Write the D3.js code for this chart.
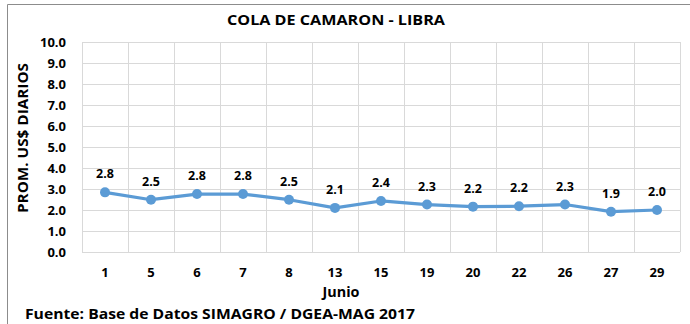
<!DOCTYPE html>
<html>
<head>
<meta charset="utf-8">
<script src="https://cdn.jsdelivr.net/npm/d3@7"></script>
<style>
  html, body { margin: 0; padding: 0; background: #fff; }
  svg { display: block; }
  text { font-family: "Open Sans", "Liberation Sans", sans-serif; font-weight: bold; fill: #000; }
</style>
</head>
<body>
<svg id="chart" width="690" height="324"></svg>
<script>
// Daily June price, shrimp tail per pound (US$)
const days = ["1", "5", "6", "7", "8", "13", "15", "19", "20", "22", "26", "27", "29"];
const prices = [2.84, 2.49, 2.76, 2.76, 2.49, 2.10, 2.43, 2.26, 2.16, 2.18, 2.26, 1.92, 2.00];
const yTicks = [0, 1, 2, 3, 4, 5, 6, 7, 8, 9, 10];

const title = "COLA DE CAMARON - LIBRA";
const yTitle = "PROM. US$ DIARIOS";
const xTitle = "Junio";
const source = "Fuente: Base de Datos SIMAGRO / DGEA-MAG 2017";

const svg = d3.select("#chart");
const plot = { left: 82, right: 680, top: 42, bottom: 252 };

// outer frame of the chart object
svg.append("path")
  .attr("d", `M7.5,${324} V4.5 H690`)
  .attr("fill", "none").attr("stroke", "#8c8c8c").attr("stroke-width", 1);

const x = d3.scaleBand().domain(days).range([plot.left, plot.right]);
const y = d3.scaleLinear().domain([0, 10]).range([plot.bottom, plot.top]);

// horizontal grid
svg.append("g").selectAll("line").data(yTicks).join("line")
  .attr("x1", plot.left).attr("x2", plot.right)
  .attr("y1", d => Math.round(y(d)) + 0.5).attr("y2", d => Math.round(y(d)) + 0.5)
  .attr("stroke", "#d9d9d9").attr("stroke-width", 1);

// vertical grid at category boundaries
const bounds = days.map(d => x(d)).concat([plot.right]);
svg.append("g").selectAll("line").data(bounds).join("line")
  .attr("x1", d => Math.round(d) + 0.5).attr("x2", d => Math.round(d) + 0.5)
  .attr("y1", plot.top).attr("y2", plot.bottom)
  .attr("stroke", "#d9d9d9").attr("stroke-width", 1);

// y axis labels
const yAxis = d3.axisLeft(y).tickValues(yTicks).tickFormat(d3.format(".1f")).tickSize(0).tickPadding(16);
const gy = svg.append("g").attr("transform", `translate(${plot.left},0)`).call(yAxis);
gy.select(".domain").remove();
gy.selectAll("text").attr("font-size", 13).attr("font-family", "'Open Sans', sans-serif").attr("font-weight", "bold").attr("fill", "#000");

// x axis labels
const xAxis = d3.axisBottom(x).tickSize(0).tickPadding(16);
const gx = svg.append("g").attr("transform", `translate(0,${plot.bottom})`).call(xAxis);
gx.select(".domain").remove();
gx.selectAll("text").attr("font-size", 13).attr("font-family", "'Open Sans', sans-serif").attr("font-weight", "bold").attr("fill", "#000");

// series line and markers
const cx = d => x(d) + x.bandwidth() / 2;
const pts = days.map((d, i) => ({ day: d, v: prices[i] }));
svg.append("path").datum(pts)
  .attr("d", d3.line().x(p => cx(p.day)).y(p => y(p.v)))
  .attr("fill", "none").attr("stroke", "#5b9bd5").attr("stroke-width", 3.2).attr("stroke-linejoin", "round");
svg.append("g").selectAll("circle").data(pts).join("circle")
  .attr("cx", p => cx(p.day)).attr("cy", p => y(p.v)).attr("r", 5)
  .attr("fill", "#5b9bd5");

// value labels
svg.append("g").selectAll("text").data(pts).join("text")
  .attr("x", p => cx(p.day)).attr("y", p => y(p.v) - 14)
  .attr("text-anchor", "middle").attr("font-size", 12.5)
  .text(p => p.v.toFixed(1));

// titles
svg.append("text").attr("x", 336).attr("y", 25).attr("text-anchor", "middle")
  .attr("font-size", 15).attr("textLength", 218).attr("lengthAdjust", "spacingAndGlyphs").text(title);
svg.append("text").attr("transform", "translate(28,138) rotate(-90)").attr("text-anchor", "middle")
  .attr("font-size", 14).attr("textLength", 150).attr("lengthAdjust", "spacingAndGlyphs").text(yTitle);
svg.append("text").attr("x", 341).attr("y", 297).attr("text-anchor", "middle")
  .attr("font-size", 13.5).attr("textLength", 37).attr("lengthAdjust", "spacingAndGlyphs").text(xTitle);
svg.append("text").attr("x", 25).attr("y", 319).attr("font-size", 15)
  .attr("textLength", 390).attr("lengthAdjust", "spacingAndGlyphs").text(source);
</script>
</body>
</html>
